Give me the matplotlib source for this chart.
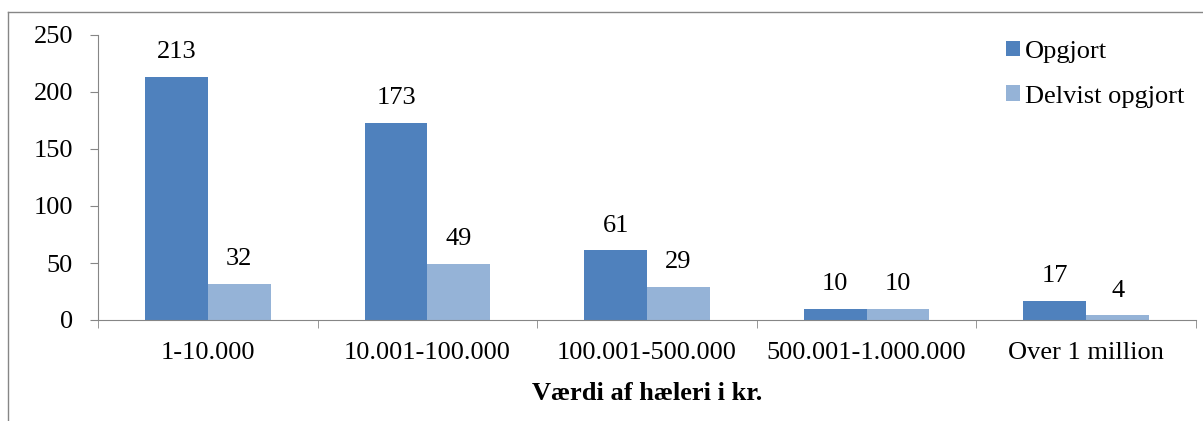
import numpy as np
import matplotlib.pyplot as plt
from matplotlib.lines import Line2D

# data
categories = ['1-10.000', '10.001-100.000', '100.001-500.000', '500.001-1.000.000', 'Over 1 million']
opgjort = [213, 173, 61, 10, 17]
delvist = [32, 49, 29, 10, 4]

plt.rcParams['font.family'] = ['Liberation Serif', 'DejaVu Serif']
fs = 19
gray = '#868686'

fig = plt.figure(figsize=(12.03, 4.21), dpi=100)
ax = fig.add_axes([98/1203, 1-320/421, (1196-98)/1203, (320-35)/421])

x = np.arange(len(categories))
w = 1/3.5
b1 = ax.bar(x - w/2, opgjort, w, color='#4F81BD', label='Opgjort')
b2 = ax.bar(x + w/2, delvist, w, color='#95B3D7', label='Delvist opgjort')

for bars in (b1, b2):
    for r in bars:
        ax.annotate(str(int(r.get_height())), (r.get_x() + r.get_width()/2, r.get_height()),
                    xytext=(0, 10), textcoords='offset points', ha='center', va='bottom', fontsize=fs)

ax.set_xlim(-0.5, len(categories) - 0.5)
ax.set_ylim(0, 250)
ax.set_yticks([0, 50, 100, 150, 200, 250])
ax.set_xticks(x)
ax.set_xticklabels(categories)
ax.set_xticks(np.arange(-0.5, len(categories)), minor=True)

for s in ['top', 'right']:
    ax.spines[s].set_visible(False)
for s in ['left', 'bottom']:
    ax.spines[s].set_color(gray)
ax.tick_params(axis='y', length=6, color=gray, labelsize=fs, pad=12)
ax.tick_params(axis='x', which='major', length=0, labelsize=fs, pad=16)
ax.tick_params(axis='x', which='minor', length=6, color=gray)

fig.text(647/1203, 1-393/421, 'Værdi af hæleri i kr.', ha='center', va='center',
         fontsize=fs, fontweight='bold')

fig.legend(loc='upper left', bbox_to_anchor=(995/1203, 1-30/421), frameon=False,
           fontsize=fs, handlelength=0.55, handleheight=0.55, handletextpad=0.2,
           labelspacing=0.85, borderaxespad=0)

# chart frame (cropped on right and bottom)
fig.add_artist(Line2D([8/1203, 1], [1-12/421, 1-12/421], color=gray, lw=1))
fig.add_artist(Line2D([8/1203, 8/1203], [0, 1-12/421], color=gray, lw=1))

fig.savefig('out.png', dpi=100)
